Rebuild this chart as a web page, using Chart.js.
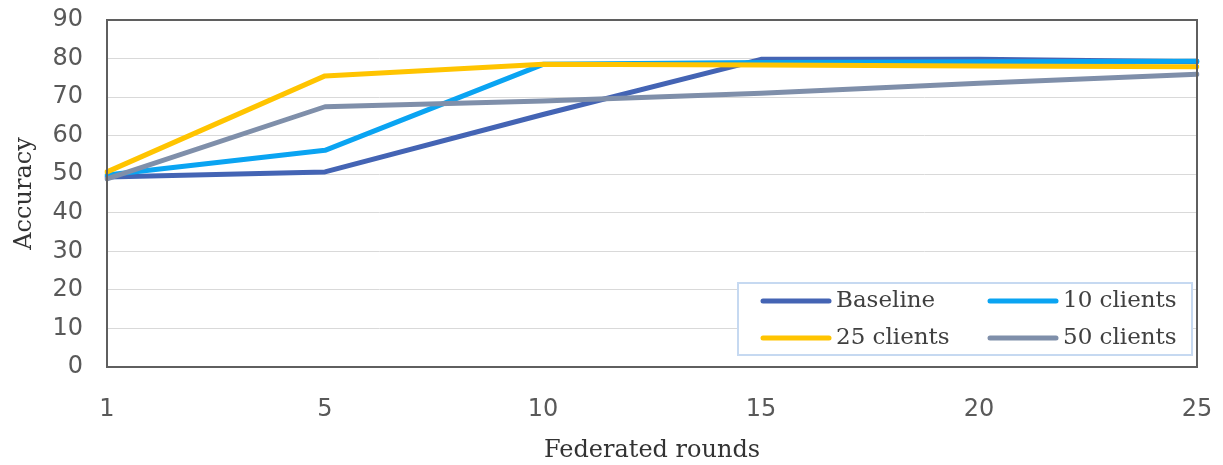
<!DOCTYPE html>
<html>
<head>
<meta charset="utf-8">
<title>Accuracy by federated rounds</title>
<script src="https://cdn.jsdelivr.net/npm/chart.js@4/dist/chart.umd.min.js"></script>
<style>
  html, body { margin: 0; padding: 0; background: #ffffff; }
  #wrap { width: 1223px; height: 465px; }
</style>
</head>
<body>
<div id="wrap"><canvas id="chart" width="1223" height="465"></canvas></div>
<script>
// Federated rounds on the x axis
const rounds = ['1', '5', '10', '15', '20', '25'];

// Accuracy per configuration
const baseline  = [49.3, 50.6, 65.5, 79.8, 79.8, 79.2];
const clients10 = [49.8, 56.2, 78.5, 79.0, 79.2, 79.3];
const clients25 = [50.6, 75.5, 78.5, 78.3, 78.1, 77.9];
const clients50 = [48.8, 67.5, 69.0, 71.0, 73.6, 75.9];

const seriesNames  = ['Baseline', '10 clients', '25 clients', '50 clients'];
const seriesColors = ['#4464B4', '#0AA4F2', '#FFC400', '#7F8FAA'];

const yMin = 0, yMax = 90, yStep = 10;

const serif = 'DejaVu Serif';
const sans = 'DejaVu Sans';

// Frame around the plot area
const framePlugin = {
  id: 'plotFrame',
  afterDatasetsDraw(chart) {
    const { ctx, chartArea: a } = chart;
    ctx.save();
    ctx.strokeStyle = '#5f5f5f';
    ctx.lineWidth = 2;
    ctx.strokeRect(a.left, a.top, a.right - a.left, a.bottom - a.top);
    ctx.restore();
  }
};

// Two-column legend boxed inside the lower right of the plot
const boxLegendPlugin = {
  id: 'boxLegend',
  afterDraw(chart) {
    const { ctx } = chart;
    const box = { x: 738, y: 283, w: 454, h: 72 };
    ctx.save();
    ctx.fillStyle = '#ffffff';
    ctx.fillRect(box.x, box.y, box.w, box.h);
    ctx.strokeStyle = '#C6D9F1';
    ctx.lineWidth = 2;
    ctx.strokeRect(box.x, box.y, box.w, box.h);

    const cols = [763, 990];
    const rows = [301, 338];
    const lineLen = 66;
    ctx.font = '23px "' + serif + '"';
    ctx.textBaseline = 'middle';
    ctx.textAlign = 'left';
    chart.data.datasets.forEach((ds, i) => {
      const cx = cols[i % 2];
      const cy = rows[Math.floor(i / 2)];
      ctx.strokeStyle = ds.borderColor;
      ctx.lineWidth = 5;
      ctx.lineCap = 'round';
      ctx.beginPath();
      ctx.moveTo(cx, cy);
      ctx.lineTo(cx + lineLen, cy);
      ctx.stroke();
      ctx.fillStyle = '#404040';
      ctx.fillText(ds.label, cx + lineLen + 7, cy);
    });
    ctx.restore();
  }
};

const seriesValues = [baseline, clients10, clients25, clients50];

new Chart(document.getElementById('chart'), {
  type: 'line',
  data: {
    labels: rounds,
    datasets: seriesValues.map((vals, i) => ({
      label: seriesNames[i],
      data: vals,
      borderColor: seriesColors[i],
      backgroundColor: seriesColors[i],
      borderWidth: 5,
      pointRadius: 0,
      pointHoverRadius: 0,
      tension: 0,
      fill: false,
      borderJoinStyle: 'round',
      borderCapStyle: 'round',
      order: seriesValues.length - i
    }))
  },
  options: {
    responsive: false,
    devicePixelRatio: 1,
    animation: false,
    events: [],
    layout: { padding: { top: 20, right: 26, bottom: 0, left: 0 } },
    plugins: {
      legend: { display: false },
      tooltip: { enabled: false }
    },
    scales: {
      x: {
        type: 'category',
        offset: false,
        grid: { display: false, drawTicks: false },
        border: { display: false },
        ticks: {
          color: '#595959',
          font: { family: sans, size: 24 },
          padding: 28,
          maxRotation: 0,
          autoSkip: false
        },
        title: {
          display: true,
          text: 'Federated rounds',
          color: '#333333',
          font: { family: serif, size: 24 },
          padding: { top: 0, bottom: 0 }
        },
        afterFit(scale) {
          scale.height = 98;
          scale.paddingLeft = 0;
          scale.paddingRight = 0;
        }
      },
      y: {
        min: yMin,
        max: yMax,
        grid: { color: '#D9D9D9', lineWidth: 1, drawTicks: false },
        border: { display: false },
        ticks: {
          stepSize: yStep,
          color: '#595959',
          font: { family: sans, size: 24 },
          padding: 24
        },
        title: {
          display: true,
          text: 'Accuracy',
          color: '#333333',
          font: { family: serif, size: 24 },
          padding: { top: 10, bottom: 0 }
        },
        afterFit(scale) {
          scale.width = 107;
          scale.paddingTop = 0;
          scale.paddingBottom = 0;
        }
      }
    }
  },
  plugins: [framePlugin, boxLegendPlugin]
});
</script>
</body>
</html>
